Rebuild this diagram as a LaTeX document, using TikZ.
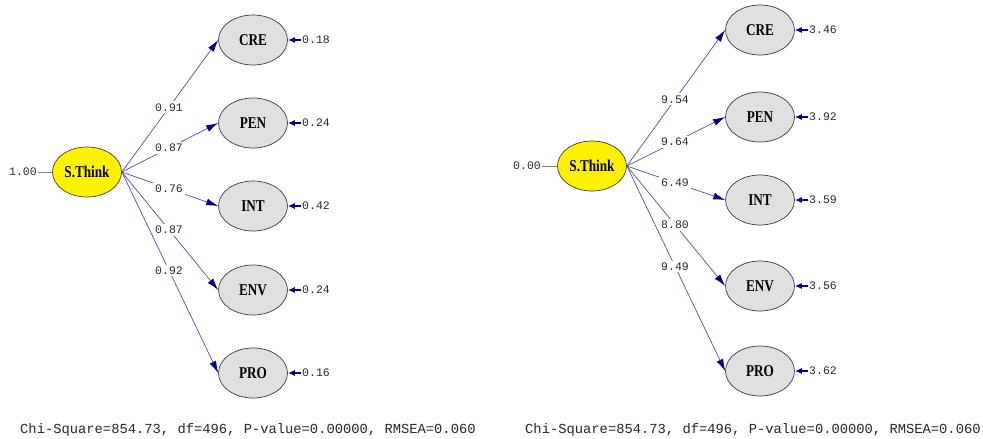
\documentclass[tikz,border=0pt]{standalone}
\usepackage{fontspec}
\newfontfamily\lblfont{Liberation Mono}
\newfontfamily\nodefont[FakeStretch=0.8]{Liberation Serif}
\usetikzlibrary{arrows.meta,shapes.geometric}
\definecolor{pathblue}{RGB}{80,80,170}
\definecolor{navy}{RGB}{0,0,128}
\definecolor{ellgray}{RGB}{224,224,224}
\definecolor{bordergray}{RGB}{60,60,60}
\definecolor{txtgray}{RGB}{40,40,40}
\begin{document}
\begin{tikzpicture}[x=1pt,y=-1pt,
  ellbase/.style={ellipse, draw=bordergray, line width=0.7pt, minimum width=69pt, minimum height=50pt, inner sep=0pt, font=\nodefont\bfseries\fontsize{16.5}{16.5}\selectfont},
  latent/.style={ellbase, fill=yellow},
  observed/.style={ellbase, fill=ellgray},
  numlbl/.style={font=\lblfont\fontsize{11.5}{11.5}\selectfont, text=txtgray, inner sep=1pt},
  pathlbl/.style={numlbl, fill=white, inner sep=2pt},
  patharrow/.style={draw=pathblue, line width=0.7pt, -{Latex[length=12pt,width=7pt,color=navy]}},
  errarrow/.style={draw=navy, line width=1.6pt, -{Latex[length=7pt,width=6pt]}},
  varline/.style={draw=gray, line width=0.7pt},
  fitlbl/.style={font=\lblfont\fontsize{13.8}{14}\selectfont, text=txtgray, anchor=west, inner sep=0pt}
]
\useasboundingbox[fill=white] (0,0) rectangle (983,439);

% ---------- left model ----------
\node[latent] (lst) at (87,172) {S.Think};
\node[numlbl, anchor=east] (lvar) at (38,172) {1.00};
\draw[varline] (lvar.east) -- (lst.west);

\foreach \nm/\y/\pl/\el in {CRE/40/0.91/0.18, PEN/123/0.87/0.24, INT/206/0.76/0.42, ENV/290/0.87/0.24, PRO/373/0.92/0.16}{
  \node[observed] (l\nm) at (253,\y) {\nm};
  \node[numlbl, anchor=west] (le\nm) at (301,\y) {\el};
  \draw[errarrow] (le\nm.west) -- (l\nm.east);
  \draw[patharrow] (lst.east) -- node[pathlbl, pos=0.49] (lp\nm) {\pl} (l\nm.west);
}
\node[fitlbl] (lfit) at (20,430) {Chi-Square=854.73, df=496, P-value=0.00000, RMSEA=0.060};

% ---------- right model ----------
\node[latent] (rst) at (592,166) {S.Think};
\node[numlbl, anchor=east] (rvar) at (542,166) {0.00};
\draw[varline] (rvar.east) -- (rst.west);

\foreach \nm/\y/\pl/\el in {CRE/30/9.54/3.46, PEN/117/9.64/3.92, INT/200/6.49/3.59, ENV/286/8.80/3.56, PRO/371/9.49/3.62}{
  \node[observed] (r\nm) at (760,\y) {\nm};
  \node[numlbl, anchor=west] (re\nm) at (808,\y) {\el};
  \draw[errarrow] (re\nm.west) -- (r\nm.east);
  \draw[patharrow] (rst.east) -- node[pathlbl, pos=0.49] (rp\nm) {\pl} (r\nm.west);
}
\node[fitlbl] (rfit) at (525,430) {Chi-Square=854.73, df=496, P-value=0.00000, RMSEA=0.060};
\end{tikzpicture}
\end{document}
